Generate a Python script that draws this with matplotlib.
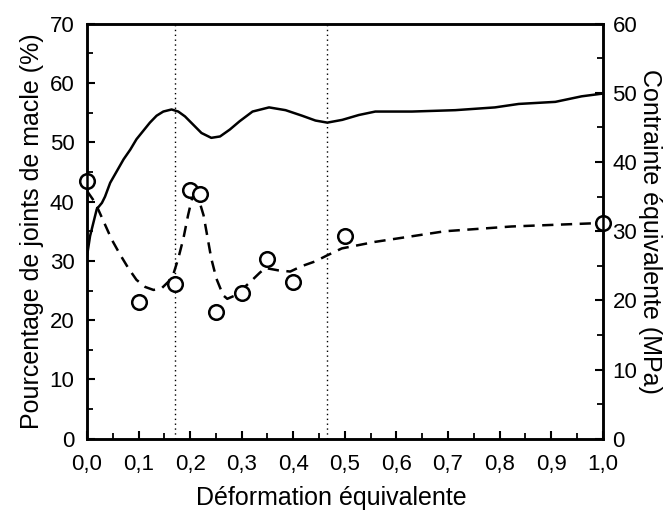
import matplotlib
matplotlib.use('Agg')
import matplotlib.pyplot as plt
from matplotlib.ticker import MultipleLocator, FuncFormatter

plt.rcParams.update({
    'font.family': ['Liberation Sans', 'DejaVu Sans'],
    'xtick.direction': 'in',
    'ytick.direction': 'in',
})

# twin boundary fraction, measured points (%)
strain_pts = [0.0, 0.10, 0.17, 0.20, 0.22, 0.25, 0.30, 0.35, 0.40, 0.50, 1.0]
twin_pct = [43.5, 23.0, 26.1, 41.9, 41.2, 21.3, 24.6, 30.4, 26.4, 34.2, 36.4]

# trend curve through the twin fraction (%)
trend_x = [0.0, 0.016, 0.032, 0.048, 0.064, 0.080, 0.096, 0.113, 0.129,
           0.145, 0.158, 0.168, 0.177, 0.187, 0.196, 0.203, 0.210, 0.216,
           0.226, 0.233, 0.241, 0.251, 0.264, 0.272, 0.288, 0.316, 0.335,
           0.346, 0.371, 0.394, 0.416, 0.442, 0.465, 0.494, 0.558, 0.694,
           0.823, 1.0]
trend_y = [41.8, 39.8, 36.7, 33.6, 31.1, 28.8, 26.8, 25.6, 25.1,
           25.4, 26.5, 27.9, 30.4, 33.8, 37.7, 40.3, 41.1, 40.6,
           37.7, 34.3, 30.4, 27.0, 24.2, 23.6, 24.2, 26.4, 28.0,
           28.8, 28.4, 28.2, 29.1, 29.9, 30.9, 32.1, 33.2, 35.0,
           35.8, 36.4]

# flow stress curve (MPa)
stress_x = [0.0, 0.006, 0.019, 0.029, 0.035, 0.045, 0.058, 0.071, 0.084,
            0.096, 0.109, 0.122, 0.135, 0.148, 0.164, 0.177, 0.190, 0.206,
            0.222, 0.241, 0.258, 0.277, 0.296, 0.321, 0.353, 0.385, 0.417,
            0.443, 0.466, 0.495, 0.527, 0.559, 0.630, 0.714, 0.791, 0.837,
            0.908, 0.959, 1.0]
stress_mpa = [26.4, 29.3, 33.2, 34.1, 35.0, 37.0, 38.7, 40.4, 41.8,
              43.3, 44.5, 45.7, 46.7, 47.3, 47.6, 47.3, 46.6, 45.4,
              44.2, 43.5, 43.7, 44.7, 45.9, 47.3, 47.9, 47.5, 46.7,
              46.0, 45.7, 46.1, 46.8, 47.3, 47.3, 47.5, 47.9, 48.4,
              48.7, 49.5, 49.9]

# strain levels marked by vertical lines
marks = [0.17, 0.465]


def comma(v, pos):
    return ('%.1f' % v).replace('.', ',')


fig = plt.figure(figsize=(6.69, 5.15), dpi=100)
ax = fig.add_axes([0.130, 0.148, 0.771, 0.806])
ax2 = ax.twinx()

for m in marks:
    ax.axvline(m, color='black', lw=1.0, ls=(0, (1, 2.5)))

ax.plot(trend_x, trend_y, color='black', lw=1.8, ls=(0, (4.5, 3)))
ax.plot(strain_pts, twin_pct, ls='none', marker='o', ms=10.5, mfc='white',
        mec='black', mew=1.8, clip_on=False, zorder=5)
ax2.plot(stress_x, stress_mpa, color='black', lw=1.8)

ax.set_xlim(0, 1)
ax.set_ylim(0, 70)
ax2.set_ylim(0, 60)

ax.xaxis.set_major_locator(MultipleLocator(0.1))
ax.xaxis.set_minor_locator(MultipleLocator(0.05))
ax.xaxis.set_major_formatter(FuncFormatter(comma))
for a in (ax, ax2):
    a.yaxis.set_major_locator(MultipleLocator(10))
    a.yaxis.set_minor_locator(MultipleLocator(5))
    a.tick_params(which='major', length=6, width=1.5, labelsize=16)
    a.tick_params(which='minor', length=4, width=1.3)
    for s in a.spines.values():
        s.set_linewidth(1.8)
ax.tick_params(axis='x', which='both', top=False, pad=11)
ax.tick_params(axis='y', which='both', right=False, pad=9)
ax2.tick_params(axis='y', which='both', pad=7)

ax.set_xlabel('Déformation équivalente', fontsize=18)
ax.xaxis.set_label_coords(0.473, -0.114)
ax.set_ylabel('Pourcentage de joints de macle (%)', fontsize=18, labelpad=4)
ax2.set_ylabel('Contrainte équivalente (MPa)', fontsize=18, rotation=270,
               labelpad=18)

fig.savefig('out.png', dpi=100)
